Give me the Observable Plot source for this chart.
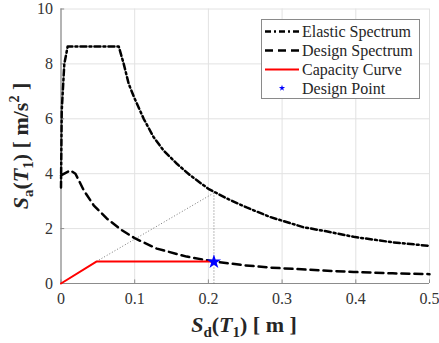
<!DOCTYPE html>
<html>
<head>
<meta charset="utf-8">
<script src="https://cdn.jsdelivr.net/npm/d3@7"></script>
<script src="https://cdn.jsdelivr.net/npm/@observablehq/plot@0.6"></script>
<style>
  html, body { margin: 0; padding: 0; background: white; }
  #chart svg text { font-family: 'Liberation Serif', 'Times New Roman', serif; }
</style>
</head>
<body>
<div id="chart"></div>
<script>
// ---- data ----
const xTicks = [0, 0.1, 0.2, 0.3, 0.4, 0.5];
const yTicks = [0, 2, 4, 6, 8, 10];

const sdElastic = [0, 0.001, 0.0045, 0.009, 0.0784, 0.0851, 0.0919, 0.1, 0.1122, 0.1257, 0.139, 0.1573, 0.1753, 0.2, 0.2249, 0.2519, 0.284, 0.329, 0.36, 0.397, 0.45, 0.5];
const saElastic = [3.5, 6.3, 8.0, 8.63, 8.63, 8.0, 7.27, 6.73, 6.0, 5.33, 4.85, 4.36, 3.94, 3.45, 3.1, 2.77, 2.42, 2.05, 1.9, 1.7, 1.5, 1.37];

const sdDesign = [0, 0.0128, 0.0196, 0.031, 0.0443, 0.0624, 0.0827, 0.1007, 0.13, 0.1705, 0.2075, 0.25, 0.284, 0.35, 0.397, 0.45, 0.5];
const saDesign = [3.94, 4.12, 4.0, 3.39, 2.85, 2.36, 1.94, 1.64, 1.27, 0.98, 0.8, 0.66, 0.58, 0.48, 0.42, 0.37, 0.34];

const sdCapacity = [0, 0.048, 0.2075];
const saCapacity = [0, 0.8, 0.8];

const sdPoint = [0.2075];
const saPoint = [0.79];
const saPointElastic = [3.3];
const sdYield = [0.048];
const saYield = [0.8];

const legendLabels = ["Elastic Spectrum", "Design Spectrum", "Capacity Curve", "Design Point"];

// ---- tables ----
const elastic = sdElastic.map((x, i) => ({x, y: saElastic[i]}));
const design = sdDesign.map((x, i) => ({x, y: saDesign[i]}));
const capacity = sdCapacity.map((x, i) => ({x, y: saCapacity[i]}));
const point = sdPoint.map((x, i) => ({x, y: saPoint[i]}));
const diag = [{x1: sdYield[0], y1: saYield[0], x2: sdPoint[0], y2: saPointElastic[0]}];
const vert = [{x1: sdPoint[0], y1: 0, x2: sdPoint[0], y2: saPointElastic[0]}];

const serif = "'Liberation Serif', 'Times New Roman', serif";
const axisGray = "#8c8c8c";

const chart = Plot.plot({
  width: 439,
  height: 343,
  marginLeft: 60.5,
  marginRight: 10,
  marginTop: 8.5,
  marginBottom: 60,
  x: {domain: [0, 0.5]},
  y: {domain: [0, 10]},
  style: {fontFamily: serif, fontSize: "16px", color: "#262626", background: "white"},
  marks: [
    Plot.gridX(xTicks, {stroke: "#e2e2e2", strokeOpacity: 1}),
    Plot.gridY(yTicks, {stroke: "#e2e2e2", strokeOpacity: 1}),
    Plot.axisX(xTicks, {tickSize: 0, tickPadding: 9, tickFormat: d => String(d), label: null, fill: "#333", fontSize: 16}),
    Plot.axisY(yTicks, {tickSize: 0, tickPadding: 8, tickFormat: d => String(d), label: null, fill: "#333", fontSize: 16}),
    Plot.ruleX([0], {y1: 0, y2: 10, stroke: axisGray, strokeWidth: 1.2}),
    Plot.ruleY([0], {x1: 0, x2: 0.5, stroke: axisGray, strokeWidth: 1.2}),
    Plot.ruleY(yTicks, {x1: 0, x2: 0.005, stroke: axisGray}),
    Plot.ruleX(xTicks, {y1: 0, y2: 0.13, stroke: axisGray}),
    Plot.link(diag, {x1: "x1", y1: "y1", x2: "x2", y2: "y2", stroke: "#777", strokeWidth: 1, strokeDasharray: "1,2"}),
    Plot.link(vert, {x1: "x1", y1: "y1", x2: "x2", y2: "y2", stroke: "#777", strokeWidth: 1, strokeDasharray: "1,2"}),
    Plot.line(elastic, {x: "x", y: "y", stroke: "black", strokeWidth: 2.5, strokeDasharray: "6,3,2,3"}),
    Plot.line(design, {x: "x", y: "y", stroke: "black", strokeWidth: 2.5, strokeDasharray: "8,5"}),
    Plot.line(capacity, {x: "x", y: "y", stroke: "#ff0000", strokeWidth: 2}),
    Plot.dot(point, {x: "x", y: "y", symbol: "star", r: 4.5, fill: "#0000ff", stroke: "none"})
  ]
});

document.getElementById("chart").appendChild(chart);

// ---- axis labels with sub/superscripts ----
const svg = d3.select(chart);

const xl = svg.append("text")
  .attr("x", 244).attr("y", 332)
  .attr("text-anchor", "middle")
  .style("font-size", "22px").style("font-weight", "bold").attr("fill", "#262626");
xl.append("tspan").style("font-style", "italic").text("S");
xl.append("tspan").attr("dy", 5).style("font-size", "15px").text("d");
xl.append("tspan").attr("dy", -5).text("(");
xl.append("tspan").style("font-style", "italic").text("T");
xl.append("tspan").attr("dy", 5).style("font-size", "15px").text("1");
xl.append("tspan").attr("dy", -5).text(") [ m ]");

const yl = svg.append("text")
  .attr("transform", "translate(28,146) rotate(-90)")
  .attr("text-anchor", "middle")
  .style("font-size", "22px").style("font-weight", "bold").attr("fill", "#262626");
yl.append("tspan").style("font-style", "italic").text("S");
yl.append("tspan").attr("dy", 5).style("font-size", "15px").text("a");
yl.append("tspan").attr("dy", -5).text("(");
yl.append("tspan").style("font-style", "italic").text("T");
yl.append("tspan").attr("dy", 5).style("font-size", "15px").text("1");
yl.append("tspan").attr("dy", -5).text(") [ m/s");
yl.append("tspan").attr("dy", -9).style("font-size", "14px").text("2");
yl.append("tspan").attr("dy", 9).text(" ]");

// ---- legend ----
const lg = svg.append("g");
lg.append("rect").attr("x", 261.5).attr("y", 19.5).attr("width", 158).attr("height", 79)
  .attr("fill", "white").attr("stroke", "#8a8a8a").attr("stroke-width", 1);
const rows = [31.5, 50.5, 69.5, 88];
const styles = [
  {stroke: "black", width: 2.5, dash: "6,3,2,3"},
  {stroke: "black", width: 2.5, dash: "8,5"},
  {stroke: "#ff0000", width: 2, dash: null},
  null
];
rows.forEach((ry, i) => {
  const s = styles[i];
  if (s) {
    lg.append("line").attr("x1", 265).attr("x2", 299).attr("y1", ry).attr("y2", ry)
      .attr("stroke", s.stroke).attr("stroke-width", s.width)
      .attr("stroke-dasharray", s.dash);
  } else {
    lg.append("path").attr("d", d3.symbol(d3.symbolStar, 12)())
      .attr("transform", `translate(282,${ry})`).attr("fill", "#0000ff");
  }
  lg.append("text").attr("x", 302).attr("y", ry).attr("dy", "0.35em")
    .attr("text-anchor", "start")
    .style("font-size", "16px").attr("fill", "#262626")
    .text(legendLabels[i]);
});
</script>
</body>
</html>
